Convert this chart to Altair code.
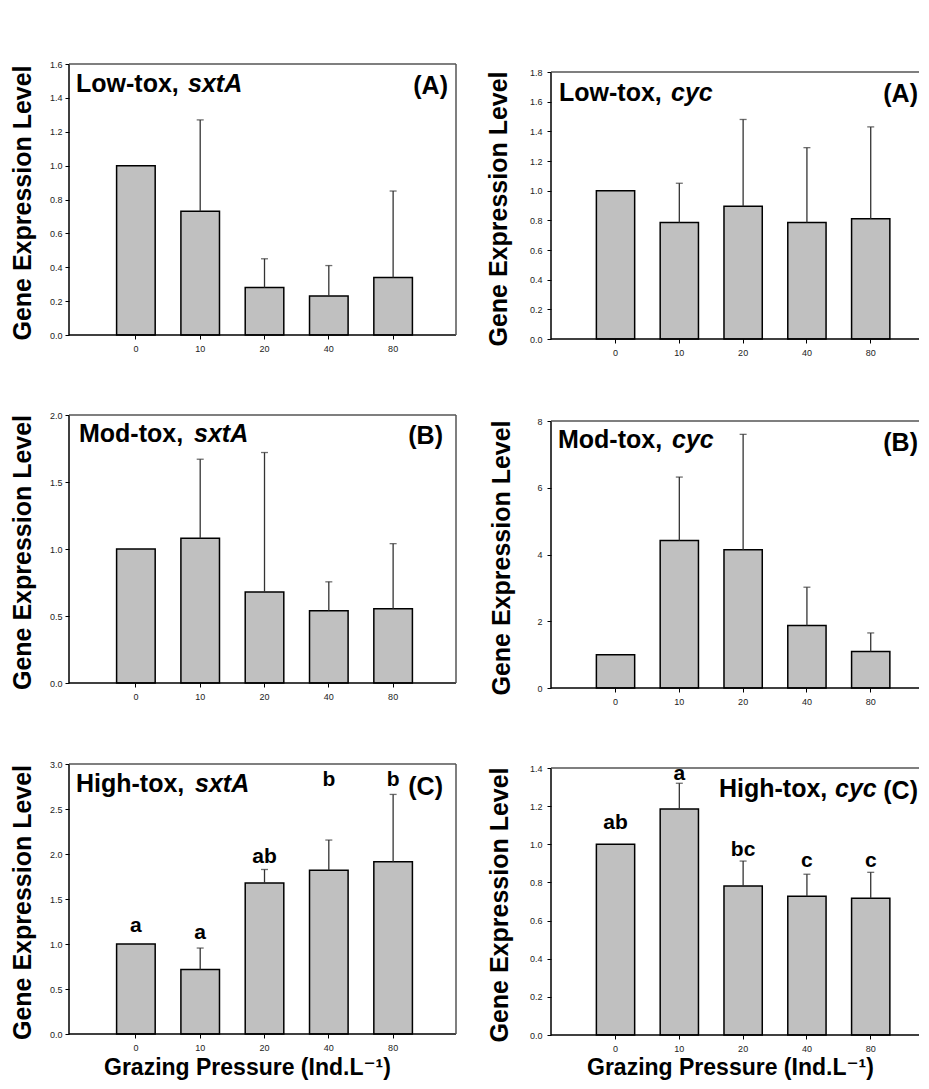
import altair as alt
import pandas as pd

FONT = "Liberation Sans, Arial, DejaVu Sans"

# ---------------- data ----------------
pressure = ["0", "10", "20", "40", "80"]

low_sxtA_mean = [1.00, 0.73, 0.28, 0.23, 0.34]
low_sxtA_upper = [None, 1.27, 0.45, 0.41, 0.85]

low_cyc_mean = [1.00, 0.785, 0.895, 0.785, 0.81]
low_cyc_upper = [None, 1.05, 1.48, 1.29, 1.43]

mod_sxtA_mean = [1.00, 1.08, 0.68, 0.54, 0.555]
mod_sxtA_upper = [None, 1.67, 1.72, 0.755, 1.04]

mod_cyc_mean = [1.00, 4.42, 4.14, 1.87, 1.09]
mod_cyc_upper = [None, 6.32, 7.60, 3.02, 1.65]

high_sxtA_mean = [1.00, 0.717, 1.678, 1.82, 1.915]
high_sxtA_upper = [None, 0.955, 1.828, 2.155, 2.662]
high_sxtA_letters = ["a", "a", "ab", "b", "b"]
high_sxtA_letter_y = [1.13, 1.055, 1.90, 2.76, 2.76]

high_cyc_mean = [1.00, 1.185, 0.781, 0.727, 0.717]
high_cyc_upper = [None, 1.32, 0.912, 0.843, 0.853]
high_cyc_letters = ["ab", "a", "bc", "c", "c"]
high_cyc_letter_y = [1.078, 1.335, 0.939, 0.881, 0.881]

ticks_low_sxtA = [0.0, 0.2, 0.4, 0.6, 0.8, 1.0, 1.2, 1.4, 1.6]
ticks_low_cyc = [0.0, 0.2, 0.4, 0.6, 0.8, 1.0, 1.2, 1.4, 1.6, 1.8]
ticks_mod_sxtA = [0.0, 0.5, 1.0, 1.5, 2.0]
ticks_mod_cyc = [0, 2, 4, 6, 8]
ticks_high_sxtA = [0.0, 0.5, 1.0, 1.5, 2.0, 2.5, 3.0]
ticks_high_cyc = [0.0, 0.2, 0.4, 0.6, 0.8, 1.0, 1.2, 1.4]

y_title = "Gene Expression Level"
x_title = "Grazing Pressure (Ind.L\u207b\u00b9)"

# ---------------- panel layout settings ----------------
LEFT_X = dict(po=0.709, align=0.522)
RIGHT_X = dict(po=0.584, align=0.609)

panels = [
    dict(mean=low_sxtA_mean, upper=low_sxtA_upper, ymax=1.6, ticks=ticks_low_sxtA, fmt=".1f",
         W=387, H=271, E=0, xs=LEFT_X, tx=-34, lp=3, right=True,
         name="Low-tox,", gene="sxtA", tag="(A)", nx=7, ny=28, gx=119, tagx=379, tagy=30),
    dict(mean=low_cyc_mean, upper=low_cyc_upper, ymax=1.8, ticks=ticks_low_cyc, fmt=".1f",
         W=368, H=267, E=8, xs=RIGHT_X, tx=-40, lp=5, right=False,
         name="Low-tox,", gene="cyc", tag="(A)", nx=8, ny=29, gx=120, tagx=367, tagy=30),
    dict(mean=mod_sxtA_mean, upper=mod_sxtA_upper, ymax=2.0, ticks=ticks_mod_sxtA, fmt=".1f",
         W=387, H=268, E=0, xs=LEFT_X, tx=-34, lp=3, right=True,
         name="Mod-tox,", gene="sxtA", tag="(B)", nx=10, ny=27, gx=125, tagx=374, tagy=29),
    dict(mean=mod_cyc_mean, upper=mod_cyc_upper, ymax=8.0, ticks=ticks_mod_cyc, fmt="d",
         W=368, H=267, E=6, xs=RIGHT_X, tx=-37, lp=5, right=False,
         name="Mod-tox,", gene="cyc", tag="(B)", nx=7, ny=27, gx=121, tagx=367, tagy=30),
    dict(mean=high_sxtA_mean, upper=high_sxtA_upper, ymax=3.0, ticks=ticks_high_sxtA, fmt=".1f",
         W=387, H=270, E=0, xs=LEFT_X, tx=-34, lp=3, right=True,
         name="High-tox,", gene="sxtA", tag="(C)", nx=7, ny=28, gx=126, tagx=374, tagy=31,
         letters=high_sxtA_letters, letter_y=high_sxtA_letter_y, xt=(35, 41)),
    dict(mean=high_cyc_mean, upper=high_cyc_upper, ymax=1.4, ticks=ticks_high_cyc, fmt=".1f",
         W=368, H=267, E=4, xs=RIGHT_X, tx=-39, lp=5, right=False,
         name="High-tox,", gene="cyc", tag="(C)", nx=168, ny=29, gx=284, tagx=367, tagy=31,
         letters=high_cyc_letters, letter_y=high_cyc_letter_y, xt=(36, 40)),
]

one = pd.DataFrame({"k": [0]})


def text_layer(text, x, y, size=25, italic=False, align="left"):
    return alt.Chart(one).mark_text(
        text=text, font=FONT, fontSize=size, fontWeight="bold",
        fontStyle="italic" if italic else "normal", align=align,
        baseline="alphabetic", color="black"
    ).encode(x=alt.value(x), y=alt.value(y))


def make_panel(c):
    W, H, E = c["W"], c["H"], c["E"]
    ymax = c["ymax"]
    ydom = ymax * (H + E) / H
    df = pd.DataFrame({"g": pressure, "mean": c["mean"], "upper": c["upper"]})

    yscale = alt.Scale(domain=[0, ydom], nice=False, zero=True)
    yaxis = alt.Axis(
        title=y_title, values=c["ticks"], format=c["fmt"], domain=False, grid=False,
        tickSize=4, tickColor="black", tickWidth=1, labelFlush=False,
        labelFont=FONT, labelFontSize=9, labelColor="#222", labelPadding=c["lp"],
        titleFont=FONT, titleFontSize=25, titleFontWeight="bold", titleColor="black",
        titleX=c["tx"], titleY=E + H / 2 + 3, titleAngle=270, titleAlign="center",
        titleBaseline="bottom",
    )
    xscale = alt.Scale(domain=pressure, paddingInner=0.4,
                       paddingOuter=c["xs"]["po"], align=c["xs"]["align"])
    xaxis = alt.Axis(
        title=None, labelAngle=0, domain=False,
        tickColor="black", tickSize=4, tickWidth=1, labelFont=FONT, labelFontSize=9,
        labelColor="#222", labelPadding=5, grid=False,
    )

    def Y(f):
        return alt.Y(f, type="quantitative", scale=yscale, axis=yaxis)

    X = alt.X("g:N", scale=xscale, axis=xaxis, sort=pressure)

    base = alt.Chart(df)
    bars = base.mark_bar(fill="#c0c0c0", stroke="black", strokeWidth=1.5).encode(x=X, y=Y("mean"))
    err = base.transform_filter("datum.upper != null").mark_rule(color="#333", strokeWidth=1.3).encode(
        x=X, y=Y("mean"), y2="upper:Q")
    caps = base.transform_filter("datum.upper != null").mark_tick(
        orient="horizontal", size=7, thickness=1.3, color="#333").encode(x=X, y=Y("upper"))

    fdf = pd.DataFrame({"lo": [0.0], "hi": [ymax]})
    fbase = alt.Chart(fdf)
    f_left = fbase.mark_rule(color="black", strokeWidth=1.5).encode(x=alt.value(0), y=Y("lo"), y2="hi:Q")
    f_bottom = fbase.mark_rule(color="black", strokeWidth=1.5).encode(x=alt.value(0), x2=alt.value(W), y=Y("lo"))
    f_top = fbase.mark_rule(color="#555", strokeWidth=1.5).encode(x=alt.value(0), x2=alt.value(W), y=Y("hi"))

    layers = [bars, err, caps, f_left, f_bottom, f_top]
    if c["right"]:
        layers.append(fbase.mark_rule(color="#555", strokeWidth=1.5).encode(
            x=alt.value(W), y=Y("lo"), y2="hi:Q"))
    layers += [text_layer(c["name"], c["nx"], E + c["ny"]),
               text_layer(c["gene"], c["gx"], E + c["ny"], italic=True),
               text_layer(c["tag"], c["tagx"], E + c["tagy"], align="right")]

    if "letters" in c:
        ldf = pd.DataFrame({"g": pressure, "lab": c["letters"], "ly": c["letter_y"]})
        letters = alt.Chart(ldf).mark_text(
            font=FONT, fontSize=21, fontWeight="bold", baseline="alphabetic", color="black"
        ).encode(x=X, y=Y("ly"), text="lab:N")
        layers.append(letters)
    if "xt" in c:
        layers.append(text_layer(x_title, c["xt"][0], E + H + c["xt"][1], size=23))

    return alt.layer(*layers).properties(width=W, height=H + E)


charts = [make_panel(c) for c in panels]

chart = alt.concat(
    *charts, columns=2, spacing={"row": 76, "column": 95}, bounds="flush", align="each"
).properties(
    padding={"left": 1, "top": 52, "right": 0, "bottom": 0}
).configure_view(stroke=None)

chart.save("out.html", embed_options={"renderer": "svg", "actions": False})
